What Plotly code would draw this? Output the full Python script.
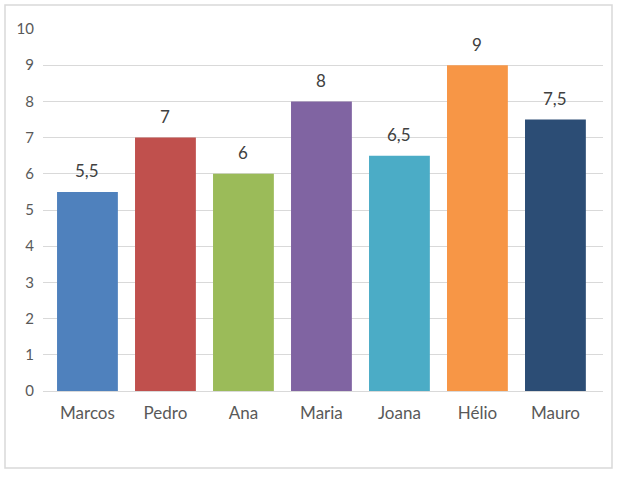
import plotly.graph_objects as go

# Données du graphique
nomes = ["Marcos", "Pedro", "Ana", "Maria", "Joana", "Hélio", "Mauro"]
notas = [5.5, 7, 6, 8, 6.5, 9, 7.5]
cores = ["#4F81BD", "#C0504D", "#9BBB59", "#8064A2", "#4BACC6", "#F79646", "#2C4D75"]

fig = go.Figure()
fig.add_trace(go.Bar(
    x=nomes, y=notas,
    marker=dict(color=cores, line=dict(width=0)),
))

# Étiquettes de valeur au-dessus des barres
for nome, nota in zip(nomes, notas):
    fig.add_annotation(x=nome, y=nota, text=f"{nota:g}".replace(".", ","),
                       showarrow=False, yanchor="middle", yshift=21,
                       font=dict(size=17, color="#404040", family="Lato"))

fig.update_layout(
    width=627, height=478,
    margin=dict(l=43, r=24, t=29, b=87),
    paper_bgcolor="white", plot_bgcolor="white",
    bargap=0.22,
    showlegend=False,
    font=dict(family="Lato", color="#595959"),
    shapes=[dict(type="rect", xref="paper", yref="paper",
                 x0=-38 / 560, x1=1 + 9 / 560, y0=-77 / 362, y1=1 + 24 / 362,
                 line=dict(color="#D9D9D9", width=1.5), fillcolor="rgba(0,0,0,0)",
                 layer="below")],
)
fig.update_xaxes(range=[-0.57, 6.61], showgrid=False, showline=False, ticks="",
                 ticklabelstandoff=10, tickfont=dict(size=17, color="#595959"))
fig.update_yaxes(range=[0, 10], dtick=1, showgrid=True, gridcolor="#D9D9D9", gridwidth=1,
                 zeroline=True, zerolinecolor="#D9D9D9", zerolinewidth=1,
                 showline=False, ticks="", ticklabelstandoff=8,
                 tickfont=dict(size=15, color="#595959"))

fig.write_html("out.html", config={"displayModeBar": False},
               post_script="document.body.style.margin='0';")
